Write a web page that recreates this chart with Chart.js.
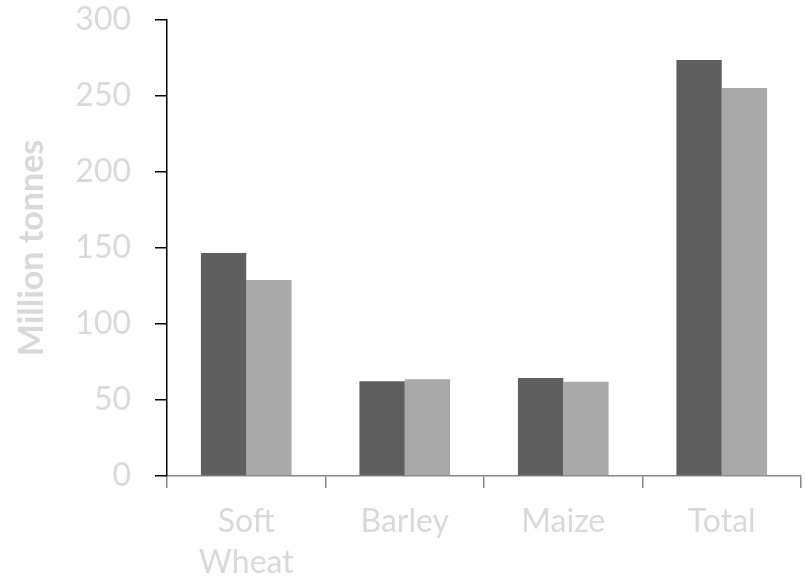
<!DOCTYPE html>
<html>
<head>
<meta charset="utf-8">
<script src="https://cdn.jsdelivr.net/npm/chart.js@4.4.1/dist/chart.umd.min.js"></script>
<style>
  html, body { margin: 0; padding: 0; background: #fff; }
  #wrap { width: 805px; height: 584px; }
</style>
</head>
<body>
<div id="wrap"><canvas id="myChart" width="805" height="584"></canvas></div>
<script>
// data
var categories = [['Soft', 'Wheat'], 'Barley', 'Maize', 'Total'];
var seriesDark = [146.7, 62.3, 64.5, 273.7];
var seriesLight = [129, 63.6, 62, 255.2];
var yTicks = [0, 50, 100, 150, 200, 250, 300];

var labelGrey = '#d9d9d9';

const ctx = document.getElementById('myChart').getContext('2d');
const myChart = new Chart(ctx, {
  type: 'bar',
  data: {
    labels: categories,
    datasets: [{
      label: 'Series 1',
      data: seriesDark,
      backgroundColor: '#5f5f5f',
      borderWidth: 0
    }, {
      label: 'Series 2',
      data: seriesLight,
      backgroundColor: '#a9a9a9',
      borderWidth: 0
    }]
  },
  options: {
    responsive: false,
    animation: false,
    categoryPercentage: 0.572,
    barPercentage: 1,
    layout: {
      padding: { top: 20, right: 4, left: 0, bottom: 0 }
    },
    scales: {
      x: {
        afterFit: function(scale) {
          scale.height = 108;
          scale.paddingLeft = 0;
          scale.paddingRight = 0;
        },
        grid: {
          offset: true,
          drawOnChartArea: false,
          drawTicks: true,
          tickLength: 12,
          color: '#868686',
          lineWidth: 1.5
        },
        border: { color: '#868686', width: 1.5 },
        ticks: {
          color: labelGrey,
          padding: 13,
          maxRotation: 0,
          font: { family: 'Lato', size: 32, lineHeight: 1.28 }
        }
      },
      y: {
        min: 0,
        max: 300,
        afterBuildTicks: function(scale) {
          scale.ticks = yTicks.map(function(v) { return { value: v }; });
        },
        afterFit: function(scale) {
          scale.width = 167;
          scale.paddingTop = 0;
          scale.paddingBottom = 0;
        },
        grid: {
          drawOnChartArea: false,
          drawTicks: true,
          tickLength: 12,
          color: '#000',
          lineWidth: 1.5
        },
        border: { color: '#000', width: 1.5 },
        ticks: {
          color: labelGrey,
          padding: 24,
          font: { family: 'Lato', size: 32 }
        },
        title: {
          display: true,
          text: 'Million tonnes',
          color: labelGrey,
          padding: { top: 12, bottom: 0 },
          font: { family: 'Lato', size: 34, weight: 'bold' }
        }
      }
    },
    plugins: {
      legend: { display: false },
      tooltip: { enabled: false }
    }
  }
});
</script>
</body>
</html>
